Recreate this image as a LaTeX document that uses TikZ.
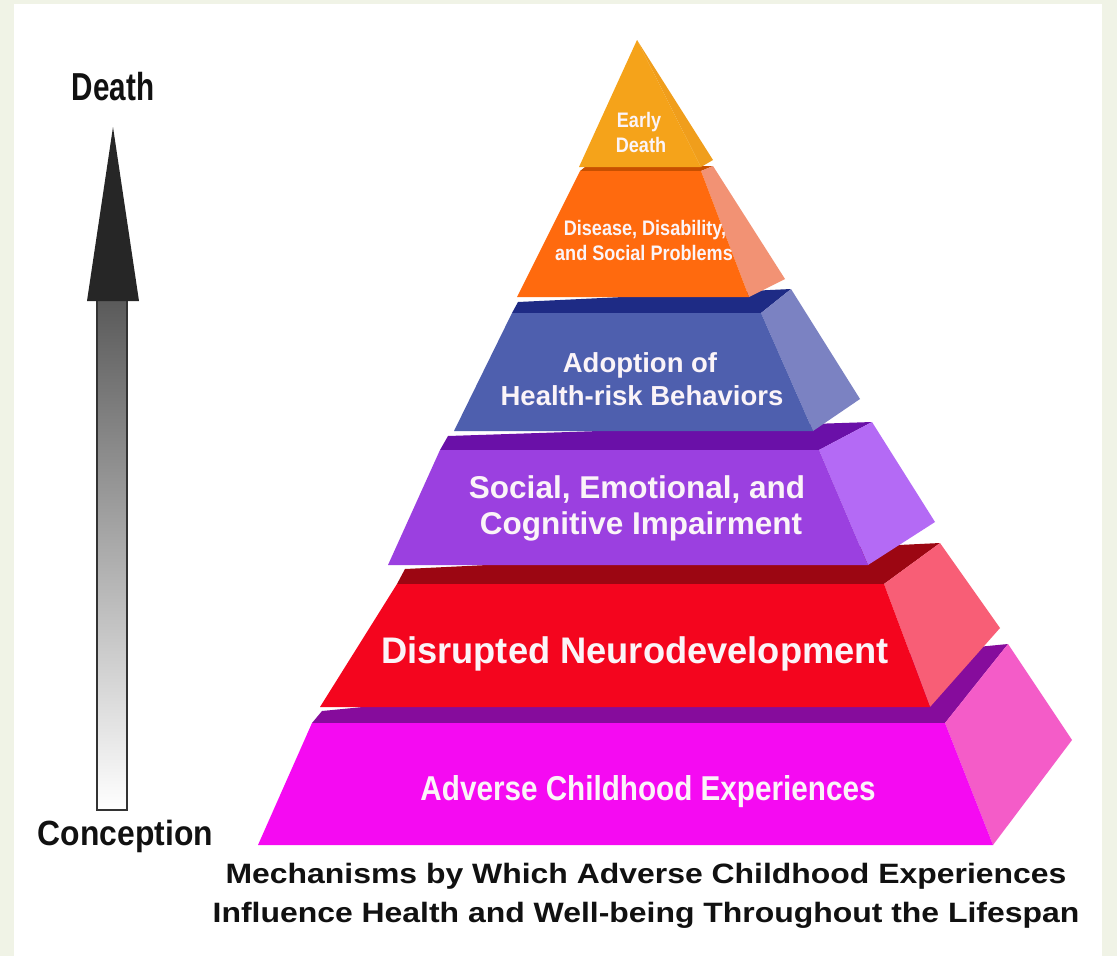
\documentclass[tikz,border=0pt]{standalone}
\usepackage{fontspec}
\setmainfont{Liberation Sans}
\newfontfamily\fTitle[FakeStretch=1.14]{Liberation Sans}
\newfontfamily\fConc[FakeStretch=0.91]{Liberation Sans}
\newfontfamily\fDeath[FakeStretch=0.76]{Liberation Sans}
\newfontfamily\fNarrow[FakeStretch=0.86]{Liberation Sans}
\newfontfamily\fNorm{Liberation Sans}
\newfontfamily\fDis[FakeStretch=0.98]{Liberation Sans}
\definecolor{bgout}{HTML}{F0F3E6}
\definecolor{ylFront}{HTML}{F5A31A}
\definecolor{ylSide}{HTML}{F09E1C}
\definecolor{orFront}{HTML}{FF6A0E}
\definecolor{orSide}{HTML}{F29274}
\definecolor{orTop}{HTML}{C85000}
\definecolor{blFront}{HTML}{4E5FAE}
\definecolor{blSide}{HTML}{7B82C2}
\definecolor{blTop}{HTML}{1E2B85}
\definecolor{puFront}{HTML}{9B40E0}
\definecolor{puSide}{HTML}{B46AF5}
\definecolor{puTop}{HTML}{6A10A8}
\definecolor{rdFront}{HTML}{F4051E}
\definecolor{rdSide}{HTML}{F85E76}
\definecolor{rdTop}{HTML}{9C0612}
\definecolor{mgFront}{HTML}{F50AF2}
\definecolor{mgSide}{HTML}{F45CC8}
\definecolor{mgTop}{HTML}{860C9C}
\definecolor{txtLight}{HTML}{FBF4F8}
\definecolor{arrowHead}{HTML}{262626}
\definecolor{arrowEdge}{HTML}{333333}
\definecolor{shaftTop}{HTML}{5A5A5A}
\definecolor{darkText}{HTML}{111111}
\tikzset{
  lbl/.style={anchor=base, inner sep=0pt, text=txtLight},
  blk/.style={anchor=base, inner sep=0pt, text=darkText},
}
\begin{document}
\begin{tikzpicture}[x=1pt,y=-1pt]
\useasboundingbox (0,0) rectangle (1117,956);
\fill[bgout] (0,0) rectangle (1117,956);
\fill[white] (14,4) rectangle (1102,956);

% magenta layer
\fill[mgTop] (312,723) -- (945,723) -- (1008,644) -- (322,711) -- cycle;
\fill[mgSide] (945,723) -- (1008,644) -- (1072,740) -- (993,845) -- cycle;
\fill[mgFront] (312,723) -- (945,723) -- (993,845) -- (258,845) -- cycle;
% red layer
\fill[rdTop] (397,584) -- (884,584) -- (940,543) -- (405,569) -- cycle;
\fill[rdSide] (884,584) -- (940,543) -- (1000,628) -- (930,707) -- cycle;
\fill[rdFront] (397,584) -- (884,584) -- (930,707) -- (320,707) -- cycle;
% purple layer
\fill[puTop] (440,450) -- (819,450) -- (872,422) -- (448,436) -- cycle;
\fill[puSide] (819,450) -- (872,422) -- (935,522) -- (868,565) -- cycle;
\fill[puFront] (440,450) -- (819,450) -- (868,565) -- (388,565) -- cycle;
% blue layer
\fill[blTop] (512,313) -- (761,313) -- (791,289) -- (518,302) -- cycle;
\fill[blSide] (761,313) -- (791,289) -- (860,399) -- (813,431) -- cycle;
\fill[blFront] (512,313) -- (761,313) -- (813,431) -- (454,431) -- cycle;
% orange layer
\fill[orTop] (580,171) -- (701,171) -- (713,166) -- (585,167) -- cycle;
\fill[orSide] (701,171) -- (713,166) -- (785,279) -- (749,297) -- cycle;
\fill[orFront] (580,171) -- (701,171) -- (749,297) -- (517,297) -- cycle;
% yellow top
\fill[ylSide] (637,40) -- (701,167) -- (713,160) -- cycle;
\fill[ylFront] (637,40) -- (701,167) -- (579,167) -- cycle;

% pyramid texts
\node[lbl, font=\fNarrow\bfseries\fontsize{21}{21}\selectfont] (early1) at (639,127) {Early};
\node[lbl, font=\fNarrow\bfseries\fontsize{21}{21}\selectfont] (early2) at (641,152) {Death};
\node[lbl, font=\fNarrow\bfseries\fontsize{21}{21}\selectfont] (dis1) at (645,235) {Disease, Disability,};
\node[lbl, font=\fNarrow\bfseries\fontsize{21}{21}\selectfont] (dis2) at (644,260) {and Social Problems};
\node[lbl, font=\fNorm\bfseries\fontsize{27.5}{27.5}\selectfont] (adopt1) at (640,372) {Adoption of};
\node[lbl, font=\fNorm\bfseries\fontsize{27.5}{27.5}\selectfont] (adopt2) at (642,405) {Health-risk Behaviors};
\node[lbl, font=\fNorm\bfseries\fontsize{31.5}{31.5}\selectfont] (soc1) at (637,498) {Social, Emotional, and};
\node[lbl, font=\fNorm\bfseries\fontsize{31.5}{31.5}\selectfont] (soc2) at (641,534) {Cognitive Impairment};
\node[lbl, font=\fDis\bfseries\fontsize{37}{37}\selectfont] (neuro) at (635,663) {Disrupted Neurodevelopment};
\node[lbl, font=\fNarrow\bfseries\fontsize{34.5}{34.5}\selectfont] (ace) at (648,800) {Adverse Childhood Experiences};

% time arrow
\shadedraw[top color=shaftTop, bottom color=white, draw=arrowEdge, line width=1.5pt] (97,300) rectangle (127,810);
\fill[arrowHead] (113,127) -- (139,301) -- (87,301) -- cycle;
\node[blk, font=\fDeath\bfseries\fontsize{39}{39}\selectfont] (death) at (113,100) {Death};
\node[blk, font=\fConc\bfseries\fontsize{35}{35}\selectfont] (conception) at (125.5,845) {Conception};

% title
\node[blk, font=\fTitle\bfseries\fontsize{28}{28}\selectfont] (title1) at (646,883) {Mechanisms by Which Adverse Childhood Experiences};
\node[blk, font=\fTitle\bfseries\fontsize{28}{28}\selectfont] (title2) at (646,922) {Influence Health and Well-being Throughout the Lifespan};
\end{tikzpicture}
\end{document}
